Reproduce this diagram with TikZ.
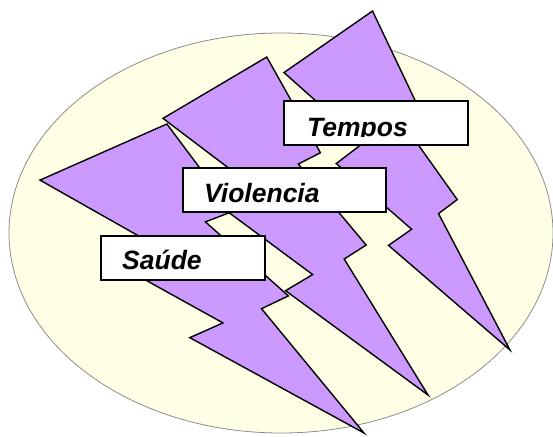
\documentclass[tikz,border=0pt]{standalone}
\usepackage{fontspec}
\setmainfont{Liberation Sans}
\definecolor{boltpurple}{RGB}{204,153,255}
\definecolor{paleyellow}{RGB}{255,255,230}
\tikzset{
  backdrop/.style={fill=paleyellow, draw=black!45, line width=0.8pt},
  bolt/.style={fill=boltpurple, draw=black, line width=1.4pt, line join=miter},
  textbox/.style={draw=black, fill=white, line width=1.4pt, anchor=north west,
    inner sep=0pt, outer sep=0pt, minimum height=44pt},
  boxtext/.style={anchor=base west, inner sep=0pt,
    font=\fontsize{26.5}{31}\selectfont\bfseries\itshape}
}
\begin{document}
\begin{tikzpicture}[x=1pt,y=-1pt]
            \useasboundingbox (0,0) rectangle (553,436);
            % Background
            \draw[backdrop] (281,233) ellipse [x radius=272, y radius=200];

            % Bolts, back to front
            \foreach \bx/\by/\bw/\bh in {284/11/226/339, 163/57/265/338, 40/124/324/309}{
            \begin{scope}[shift={(\bx,\by)}, xscale=\bw, yscale=\bh]
                \filldraw[bolt] (0.3916,0) -- (0,0.1816) -- (0.3502,0.3896) -- (0.2312,0.4500)
                    -- (0.5647,0.6437) -- (0.4624,0.6914) -- (1,1) -- (0.6837,0.5977)
                    -- (0.7666,0.5563) -- (0.5106,0.3167) -- (0.5940,0.2833) -- cycle;
            \end{scope}
            }

            % Labels
            \node[textbox, minimum width=184pt] (temposbox) at (284,101) {};
            \begin{scope}
                \clip (temposbox.north west) rectangle ([yshift=9pt]temposbox.south east);
                \node[boxtext] (tempos) at ([xshift=23pt,yshift=9pt]temposbox.south west) {Tempos};
            \end{scope}
            \node[textbox, minimum width=203pt] (violenciabox) at (183,168) {};
            \node[boxtext] (violencia) at ([xshift=21pt,yshift=10pt]violenciabox.south west) {Violencia};
            \node[textbox, minimum width=164pt] (saudebox) at (101,236) {};
            \node[boxtext] (saude) at ([xshift=21pt,yshift=11pt]saudebox.south west) {Saúde};
\end{tikzpicture}
\end{document}
